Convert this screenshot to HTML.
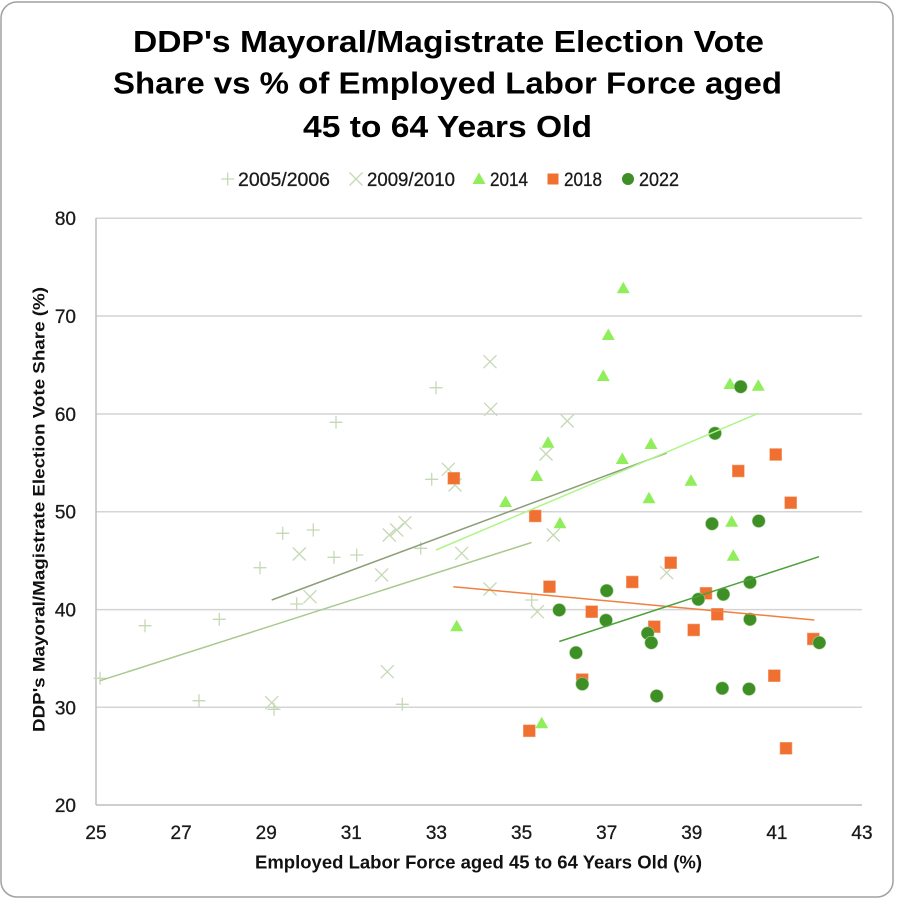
<!DOCTYPE html>
<html>
<head>
<meta charset="utf-8">
<style>
  html,body{margin:0;padding:0;background:#fff;}
  svg{display:block;}
  text{font-family:"Liberation Sans",sans-serif;}
</style>
</head>
<body>
<svg width="900" height="904" viewBox="0 0 900 904" xmlns="http://www.w3.org/2000/svg">
  <rect x="0" y="0" width="900" height="904" fill="#fff"/>
  <rect x="1" y="2" width="892" height="895" rx="16" ry="16" fill="#fff" stroke="#a0a0a0" stroke-width="1.5"/>

  <!-- Title -->
  <g font-weight="bold" font-size="31" fill="#000">
    <text x="133" y="52" textLength="631" lengthAdjust="spacingAndGlyphs">DDP's Mayoral/Magistrate Election Vote</text>
    <text x="113" y="93.5" textLength="669" lengthAdjust="spacingAndGlyphs">Share vs % of Employed Labor Force aged</text>
    <text x="303" y="137" textLength="289" lengthAdjust="spacingAndGlyphs">45 to 64 Years Old</text>
  </g>

  <!-- Legend -->
  <g font-size="19" fill="#1a1a1a" stroke="#1a1a1a" stroke-width="0.3">
    <text x="238" y="186" textLength="92" lengthAdjust="spacingAndGlyphs">2005/2006</text>
    <text x="367" y="186" textLength="88" lengthAdjust="spacingAndGlyphs">2009/2010</text>
    <text x="490" y="186" textLength="38" lengthAdjust="spacingAndGlyphs">2014</text>
    <text x="564" y="186" textLength="38" lengthAdjust="spacingAndGlyphs">2018</text>
    <text x="639" y="186" textLength="40" lengthAdjust="spacingAndGlyphs">2022</text>
  </g>
  <g stroke="#c5d9b5" stroke-width="1.3" fill="none">
    <path d="M221.2 179 H234.2 M227.7 172.5 V185.5"/>
    <path d="M349.5 172.5 L362.5 185.5 M362.5 172.5 L349.5 185.5"/>
  </g>
  <polygon points="479,172.5 472.5,184 485.5,184" fill="#90ee5a"/>
  <rect x="547.5" y="173.5" width="11" height="11" fill="#ef7030"/>
  <circle cx="628" cy="179" r="6" fill="#3d8f26"/>

  <!-- Grid -->
  <g stroke="#d4d4d4" stroke-width="1.5">
    <line x1="96" y1="218.3" x2="862" y2="218.3"/>
    <line x1="96" y1="316" x2="862" y2="316"/>
    <line x1="96" y1="414" x2="862" y2="414"/>
    <line x1="96" y1="511.7" x2="862" y2="511.7"/>
    <line x1="96" y1="609.6" x2="862" y2="609.6"/>
    <line x1="96" y1="707.3" x2="862" y2="707.3"/>
  </g>
  <g stroke="#bdbdbd" stroke-width="1.5">
    <line x1="96" y1="218" x2="96" y2="805"/>
    <line x1="96" y1="805" x2="862" y2="805"/>
  </g>

  <!-- Y tick labels -->
  <g font-size="19" fill="#1a1a1a" stroke="#1a1a1a" stroke-width="0.3" text-anchor="end">
    <text x="76" y="225">80</text>
    <text x="76" y="323">70</text>
    <text x="76" y="421">60</text>
    <text x="76" y="518.7">50</text>
    <text x="76" y="616.6">40</text>
    <text x="76" y="714.3">30</text>
    <text x="76" y="812">20</text>
  </g>
  <!-- X tick labels -->
  <g font-size="19" fill="#1a1a1a" stroke="#1a1a1a" stroke-width="0.3" text-anchor="middle">
    <text x="96" y="839">25</text>
    <text x="181.1" y="839">27</text>
    <text x="266.2" y="839">29</text>
    <text x="351.3" y="839">31</text>
    <text x="436.4" y="839">33</text>
    <text x="521.6" y="839">35</text>
    <text x="606.7" y="839">37</text>
    <text x="691.8" y="839">39</text>
    <text x="776.9" y="839">41</text>
    <text x="862" y="839">43</text>
  </g>

  <!-- Axis titles -->
  <text x="255" y="868.5" font-size="18" font-weight="bold" fill="#111" textLength="447" lengthAdjust="spacingAndGlyphs">Employed Labor Force aged 45 to 64 Years Old (%)</text>
  <text transform="translate(44.5,509.5) rotate(-90)" x="0" y="0" text-anchor="middle" font-size="17" font-weight="bold" fill="#111" textLength="445" lengthAdjust="spacingAndGlyphs">DDP's Mayoral/Magistrate Election Vote Share (%)</text>

  <!-- 2005/2006 plus markers -->
  <g stroke="#c5d9b5" stroke-width="1.3" fill="none">
    <path d="
      M93.5 678.3h13 M100 671.8v13
      M138.5 625.7h13 M145 619.2v13
      M212.8 619.3h13 M219.3 612.8v13
      M192.5 700.7h13 M199 694.2v13
      M253.5 567.7h13 M260 561.2v13
      M276.2 533.3h13 M282.7 526.8v13
      M306.8 530h13 M313.3 523.5v13
      M290.2 604h13 M296.7 597.5v13
      M327.5 557.3h13 M334 550.8v13
      M350.2 555h13 M356.7 548.5v13
      M267.5 709.3h13 M274 702.8v13
      M395.8 704.3h13 M402.3 697.8v13
      M414.2 548.3h13 M420.7 541.8v13
      M425.2 479.3h13 M431.7 472.8v13
      M329.5 422.3h13 M336 415.8v13
      M429.5 387.7h13 M436 381.2v13
      M525.2 600h13 M531.7 593.5v13
    "/>
  </g>

  <!-- 2009/2010 cross markers -->
  <g stroke="#c5d9b5" stroke-width="1.3" fill="none">
    <path d="
      M265.2 696.2l13 13 M278.2 696.2l-13 13
      M292.8 547.5l13 13 M305.8 547.5l-13 13
      M303.5 590.2l13 13 M316.5 590.2l-13 13
      M375.2 568.5l13 13 M388.2 568.5l-13 13
      M380.8 665.2l13 13 M393.8 665.2l-13 13
      M382.8 528.5l13 13 M395.8 528.5l-13 13
      M390.2 523.5l13 13 M403.2 523.5l-13 13
      M398.5 516.2l13 13 M411.5 516.2l-13 13
      M441.8 462.8l13 13 M454.8 462.8l-13 13
      M448.5 478.5l13 13 M461.5 478.5l-13 13
      M483.5 355.2l13 13 M496.5 355.2l-13 13
      M484.2 402.8l13 13 M497.2 402.8l-13 13
      M560.8 414.5l13 13 M573.8 414.5l-13 13
      M539.5 447.5l13 13 M552.5 447.5l-13 13
      M546.8 528.5l13 13 M559.8 528.5l-13 13
      M455.2 546.8l13 13 M468.2 546.8l-13 13
      M483.5 582.5l13 13 M496.5 582.5l-13 13
      M530.8 605.2l13 13 M543.8 605.2l-13 13
      M660.2 566.2l13 13 M673.2 566.2l-13 13
    "/>
  </g>

  <!-- 2014 triangles -->
  <g fill="#90ee5a">
    <polygon points="623.3,281.8 616.8,293.3 629.8,293.3"/>
    <polygon points="608.3,328.5 601.8,340 614.8,340"/>
    <polygon points="603.3,369.5 596.8,381 609.8,381"/>
    <polygon points="730,377.5 723.5,389 736.5,389"/>
    <polygon points="758.3,379.2 751.8,390.7 764.8,390.7"/>
    <polygon points="548,436.2 541.5,447.7 554.5,447.7"/>
    <polygon points="651,437.5 644.5,449 657.5,449"/>
    <polygon points="622.3,452.5 615.8,464 628.8,464"/>
    <polygon points="536.7,469.5 530.2,481 543.2,481"/>
    <polygon points="505.5,495.5 499,507 512,507"/>
    <polygon points="691,474.2 684.5,485.7 697.5,485.7"/>
    <polygon points="649,491.8 642.5,503.3 655.5,503.3"/>
    <polygon points="560,516.8 553.5,528.3 566.5,528.3"/>
    <polygon points="731.7,515.2 725.2,526.7 738.2,526.7"/>
    <polygon points="733.3,549.2 726.8,560.7 739.8,560.7"/>
    <polygon points="456.7,619.7 450.2,631.2 463.2,631.2"/>
    <polygon points="541.7,716.8 535.2,728.3 548.2,728.3"/>
  </g>

  <!-- 2018 squares -->
  <g fill="#ef7030" stroke="#f6a880" stroke-width="0.6">
    <rect x="447.8" y="472.3" width="12" height="12"/>
    <rect x="732.3" y="465" width="12" height="12"/>
    <rect x="769.7" y="448.5" width="12" height="12"/>
    <rect x="784.7" y="496.7" width="12" height="12"/>
    <rect x="529.2" y="510" width="12" height="12"/>
    <rect x="664.7" y="556.7" width="12" height="12"/>
    <rect x="543.5" y="580.7" width="12" height="12"/>
    <rect x="626.3" y="576" width="12" height="12"/>
    <rect x="700" y="587.3" width="12" height="12"/>
    <rect x="585.7" y="605.7" width="12" height="12"/>
    <rect x="711.3" y="608.3" width="12" height="12"/>
    <rect x="648.3" y="620.7" width="12" height="12"/>
    <rect x="687.7" y="624" width="12" height="12"/>
    <rect x="807.3" y="633" width="12" height="12"/>
    <rect x="576.2" y="673.6" width="12" height="12"/>
    <rect x="768.3" y="669.7" width="12" height="12"/>
    <rect x="523.3" y="724.8" width="12" height="12"/>
    <rect x="780" y="742.3" width="12" height="12"/>
  </g>

  <!-- 2022 circles -->
  <g fill="#3d8f26" stroke="#a8d098" stroke-width="0.6">
    <circle cx="740.7" cy="386.7" r="6.5"/>
    <circle cx="715" cy="433.3" r="6.5"/>
    <circle cx="712" cy="523.7" r="6.5"/>
    <circle cx="758.7" cy="521" r="6.5"/>
    <circle cx="750" cy="582.3" r="6.5"/>
    <circle cx="606.7" cy="590.7" r="6.5"/>
    <circle cx="723.3" cy="594.3" r="6.5"/>
    <circle cx="698.3" cy="599.3" r="6.5"/>
    <circle cx="559.2" cy="610" r="6.5"/>
    <circle cx="606" cy="620.3" r="6.5"/>
    <circle cx="750" cy="619.3" r="6.5"/>
    <circle cx="647.7" cy="633.3" r="6.5"/>
    <circle cx="651.3" cy="642.7" r="6.5"/>
    <circle cx="819.3" cy="642.7" r="6.5"/>
    <circle cx="576" cy="652.7" r="6.5"/>
    <circle cx="582.3" cy="684" r="6.5"/>
    <circle cx="656.7" cy="696" r="6.5"/>
    <circle cx="722.3" cy="688.3" r="6.5"/>
    <circle cx="749" cy="689" r="6.5"/>
  </g>

  <!-- Trend lines -->
  <g fill="none" stroke-width="1.5">
    <line x1="100" y1="680.7" x2="531.5" y2="542.5" stroke="#a9c98f"/>
    <line x1="271.7" y1="600" x2="666.7" y2="453" stroke="#8c9e78"/>
    <line x1="436" y1="550" x2="758.3" y2="413.3" stroke="#aef58a"/>
    <line x1="453.3" y1="586.7" x2="814.3" y2="620" stroke="#f08040"/>
    <line x1="559.3" y1="641.5" x2="819" y2="556.7" stroke="#4da03a"/>
  </g>
</svg>
</body>
</html>
